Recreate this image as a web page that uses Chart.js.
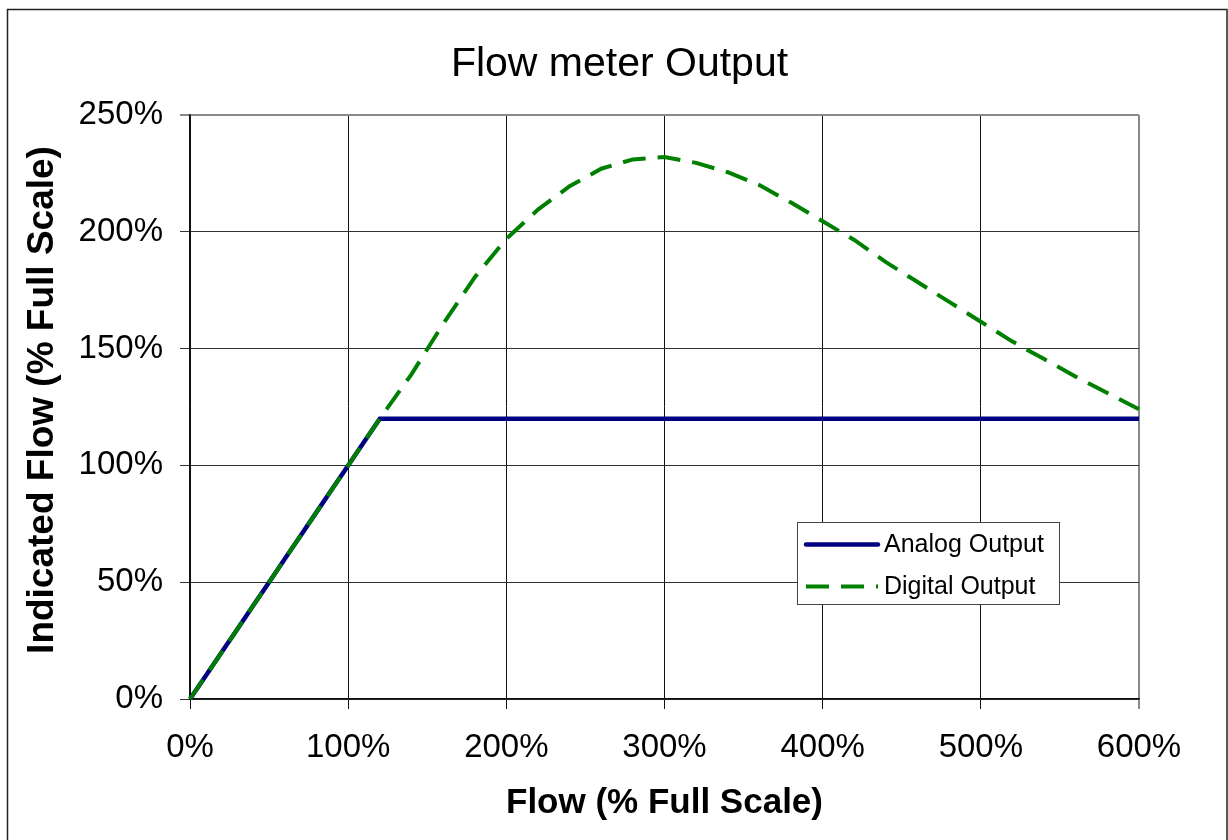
<!DOCTYPE html>
<html>
<head>
<meta charset="utf-8">
<title>Flow meter Output</title>
<script src="https://cdn.jsdelivr.net/npm/chart.js@4.4.1/dist/chart.umd.min.js"></script>
<style>
  html, body { margin: 0; padding: 0; background: #fff; }
  #chart { display: block; }
</style>
</head>
<body>
<canvas id="chart" width="1228" height="840"></canvas>
<script>
// flow in % of full scale
var flowAnalog = [0, 10, 20, 30, 40, 50, 60, 70, 80, 90, 100, 110, 120, 600];
var analogOut  = [0, 10, 20, 30, 40, 50, 60, 70, 80, 90, 100, 110, 120, 120];

var flowDigital = [0, 10, 20, 30, 40, 50, 60, 70, 80, 90, 100, 110, 120,
                   140, 160, 180, 200, 220, 240, 260, 280, 300, 320, 340, 360,
                   380, 400, 420, 440, 460, 480, 500, 520, 540, 560, 580, 600];
var digitalOut  = [0, 10, 20, 30, 40, 50, 60, 70, 80, 90, 100, 110, 120,
                   139, 160.5, 180.5, 197, 209.5, 219.5, 227, 231, 232, 229.5, 225.5, 220,
                   212.5, 204.5, 196.5, 187, 178.5, 170, 161.5, 153, 145.5, 138, 131, 124];

var xTicks = [0, 100, 200, 300, 400, 500, 600];
var yTicks = [0, 50, 100, 150, 200, 250];

var FONT = '"Liberation Sans", Arial, sans-serif';

function toPoints(xs, ys) {
    return xs.map(function(x, i) { return { x: x, y: ys[i] }; });
}

// outer frame, chart title and y title
var frame = {
    id: 'frame',
    afterDraw: function(chart) {
        var ctx = chart.ctx;
        ctx.save();
        ctx.strokeStyle = '#222';
        ctx.lineWidth = 1.5;
        ctx.strokeRect(7.5, 9.5, 1219.5, 900);

        ctx.fillStyle = '#000';
        ctx.textAlign = 'center';
        ctx.textBaseline = 'middle';
        ctx.font = '41px ' + FONT;
        ctx.fillText('Flow meter Output', 619.5, 65);

        // y axis title
        ctx.translate(43, 400);
        ctx.rotate(-Math.PI / 2);
        ctx.font = 'bold 37px ' + FONT;
        ctx.fillText('Indicated Flow (% Full Scale)', 0, 0);
        ctx.restore();
    }
};

var boxLegend = {
    id: 'boxLegend',
    afterDatasetsDraw: function(chart) {
        var ctx = chart.ctx;
        ctx.save();
        ctx.fillStyle = '#fff';
        ctx.fillRect(797.5, 522.5, 262, 82);
        ctx.strokeStyle = '#444';
        ctx.lineWidth = 1;
        ctx.strokeRect(797.5, 522.5, 262, 82);

        chart.data.datasets.forEach(function(ds, i) {
            var y = 544.5 + i * 42;
            ctx.strokeStyle = ds.borderColor;
            ctx.lineWidth = ds.borderWidth;
            ctx.setLineDash(ds.borderDash || []);
            ctx.lineCap = ds.borderDash ? 'butt' : 'round';
            ctx.beginPath();
            ctx.moveTo(806, y);
            ctx.lineTo(878, y);
            ctx.stroke();
            ctx.setLineDash([]);
            ctx.fillStyle = '#000';
            ctx.font = '25px ' + FONT;
            ctx.textAlign = 'left';
            ctx.textBaseline = 'middle';
            ctx.fillText(ds.label, 884, y + 1);
        });
        ctx.restore();
    }
};

var ctx = document.getElementById('chart');

new Chart(ctx, {
    type: 'scatter',
    data: {
        datasets: [
            {
                label: 'Analog Output',
                data: toPoints(flowAnalog, analogOut),
                showLine: true,
                borderColor: '#000080',
                backgroundColor: '#000080',
                borderWidth: 4.5,
                pointRadius: 0,
                tension: 0,
                clip: false,
                order: 2
            },
            {
                label: 'Digital Output',
                data: toPoints(flowDigital, digitalOut),
                showLine: true,
                borderColor: '#008000',
                backgroundColor: '#008000',
                borderWidth: 4,
                borderDash: [23, 12],
                pointRadius: 0,
                tension: 0,
                clip: false,
                order: 1
            }
        ]
    },
    options: {
        responsive: false,
        animation: false,
        devicePixelRatio: 1,
        layout: { padding: { left: 0, right: 89, top: 115, bottom: 0 } },
        plugins: {
            legend: { display: false },
            tooltip: { enabled: false },
            title: { display: false }
        },
        scales: {
            x: {
                type: 'linear',
                min: xTicks[0],
                max: xTicks[xTicks.length - 1],
                afterBuildTicks: function(scale) {
                    scale.ticks = xTicks.map(function(v) { return { value: v }; });
                },
                afterFit: function(scale) { scale.height = 141; },
                ticks: {
                    color: '#000',
                    padding: 19,
                    font: { family: FONT, size: 33 },
                    callback: function(v) { return v + '%'; }
                },
                grid: {
                    color: function(c) { return c.tick && c.tick.value === 600 ? '#8a8a8a' : '#111'; },
                    lineWidth: function(c) { return c.tick && c.tick.value === 600 ? 2 : 1; },
                    tickLength: 10
                },
                border: { color: '#111', width: 1.5 },
                title: {
                    display: true,
                    text: 'Flow (% Full Scale)',
                    color: '#000',
                    font: { family: FONT, size: 35, weight: 'bold', lineHeight: 1.2 },
                    padding: { top: 0, bottom: 16 }
                }
            },
            y: {
                type: 'linear',
                min: yTicks[0],
                max: yTicks[yTicks.length - 1],
                afterBuildTicks: function(scale) {
                    scale.ticks = yTicks.map(function(v) { return { value: v }; });
                },
                afterFit: function(scale) { scale.width = 190; },
                ticks: {
                    color: '#000',
                    padding: 17,
                    font: { family: FONT, size: 33 },
                    callback: function(v) { return v + '%'; }
                },
                grid: {
                    color: function(c) { return c.tick && c.tick.value === 250 ? '#8a8a8a' : '#333'; },
                    lineWidth: function(c) { return c.tick && c.tick.value === 250 ? 2 : 1; },
                    tickLength: 10
                },
                border: { color: '#111', width: 1.5 }
            }
        }
    },
    plugins: [frame, boxLegend]
});
</script>
</body>
</html>
